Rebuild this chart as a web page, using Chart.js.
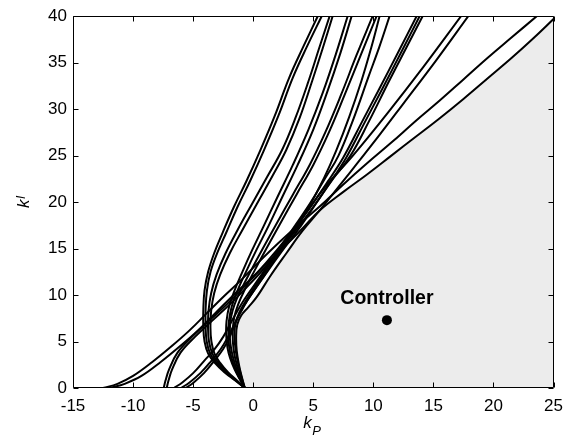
<!DOCTYPE html>
<html><head><meta charset="utf-8">
<script src="https://cdn.jsdelivr.net/npm/chart.js@4.4.0/dist/chart.umd.min.js"></script>
<style>html,body{margin:0;padding:0;background:#fff}canvas{display:block}</style>
</head><body>
<canvas id="c" width="571" height="436"></canvas>
<script>
// ---- tick labels ----
const xTicks = [-15,-10,-5,0,5,10,15,20,25];
const yTicks = [0,5,10,15,20,25,30,35,40];

// ---- boundary curves [kP, kI] ----
const curveA1 = [[-12.5,0],[-11.3,0.45],[-10,1.3],[-8.4,2.8],[-6.7,4.6],[-5.3,6.2],[-3.9,8.0],[-2.5,9.8],[-1.1,11.5],[0.5,13.6],[2.1,15.6],[3.8,17.6],[5.6,19.6],[7.5,21.9],[9.5,24.2],[11.5,26.4],[13.5,28.7],[15.5,30.9],[17.5,33.2],[19.5,35.5],[21.5,37.7],[23.6,40]];
const curveA2 = [[-11.9,0],[-10.7,0.45],[-9.3,1.3],[-7.7,2.8],[-6.0,4.6],[-4.6,6.2],[-3.2,8.0],[-1.8,9.8],[-0.4,11.5],[1.2,13.5],[2.9,15.6],[4.2,17.3],[5.53,19.1],[7.5,21.1],[9.5,23.0],[11.5,25.0],[13.5,27.0],[15.5,29.0],[17.5,31.1],[19.5,33.3],[21.5,35.5],[23.3,37.6],[25,39.7]];
const curveB1 = [[-7.45,0],[-7.3,0.8],[-7.0,2.0],[-6.3,3.8],[-5.1,5.5],[-3.7,7.2],[-2.2,9.0],[-0.6,11.1],[1.1,13.5],[2.9,16.3],[4.6,19.2],[6.2,22.2],[7.5,24.8],[9.0,28.5],[10.5,32.2],[12.1,36.2],[13.6,40]];
const curveB2 = [[-7.2,0],[-7.05,0.8],[-6.75,2.0],[-6.05,3.8],[-4.85,5.5],[-3.45,7.2],[-1.95,9.0],[-0.35,11.1],[1.35,13.5],[3.15,16.3],[4.85,19.2],[6.45,22.2],[7.75,24.8],[9.25,28.5],[10.75,32.2],[12.35,36.2],[13.85,40]];
const curveK1 = [[-6.6,0],[-5.9,0.6],[-5.0,1.6],[-4.1,2.9],[-3.2,4.2],[-2.5,5.5],[-1.95,6.8],[-1.4,8.1],[-0.7,9.6],[0.7,12.2],[2.1,14.9],[3.5,17.5],[4.8,20.0],[6.0,22.6],[7.1,25.0],[8.3,28.8],[9.6,33.5],[10.5,36.7],[11.35,40]];
const curveK2 = [[-6.0,0],[-5.3,0.6],[-4.4,1.6],[-3.5,2.9],[-2.7,4.2],[-2.1,5.5],[-1.6,6.8],[-1.1,8.1],[-0.4,9.6],[1.0,12.2],[2.5,14.9],[4.0,17.5],[5.3,20.0],[6.7,22.6],[8.1,25.0],[9.6,28.6],[11.3,33],[12.7,36.5],[14.1,40]];
const curveK3 = [[-5.6,0],[-4.95,0.6],[-4.1,1.6],[-3.25,2.9],[-2.5,4.2],[-1.95,5.5],[-1.55,6.8],[-1.1,8.0],[-0.5,9.4],[0.6,11.5],[2.0,14.2],[3.4,16.9],[4.6,19.4],[5.9,22.6],[6.9,25.5],[8.0,29.2],[9.0,33],[9.8,36.5],[10.52,40]];
const curveC1 = [[-0.7,0],[-1.5,0.8],[-2.4,1.7],[-3.2,2.7],[-3.75,3.7],[-4.05,5.0],[-4.15,6.5],[-4.15,8.5],[-4.05,10.5],[-3.75,12.5],[-3.25,14.5],[-2.55,16.7],[-1.6,19.5],[-0.55,22.3],[0.6,25.6],[1.8,29.3],[3.0,33.4],[4.2,36.8],[5.37,40]];
const curveC2 = [[-0.7,0],[-1.45,0.8],[-2.3,1.7],[-3.05,2.7],[-3.58,3.7],[-3.87,5.0],[-3.96,6.5],[-3.96,8.5],[-3.85,10.5],[-3.55,12.5],[-3.0,14.5],[-2.25,16.7],[-1.3,19.5],[-0.25,22.3],[0.9,25.6],[2.1,29.3],[3.3,33.4],[4.5,36.8],[5.70,40]];
const curveD1 = [[-0.7,0],[-1.4,0.8],[-2.2,1.7],[-2.9,2.7],[-3.4,3.7],[-3.68,5.0],[-3.76,6.5],[-3.72,8.3],[-3.5,10.2],[-3.05,12.2],[-2.3,14.5],[-1.3,17],[-0.1,19.8],[1.2,22.8],[2.4,25.6],[3.5,29],[4.6,33],[5.5,36.6],[6.36,40]];
const curveD2 = [[-0.7,0],[-1.35,0.8],[-2.1,1.7],[-2.75,2.7],[-3.22,3.7],[-3.48,5.0],[-3.56,6.5],[-3.5,8.3],[-3.25,10.2],[-2.75,12.2],[-1.95,14.5],[-0.9,17],[0.3,19.8],[1.6,22.8],[2.75,25.6],[3.85,29],[4.9,33],[5.8,36.6],[6.61,40]];
const curveE1 = [[-0.7,0],[-1.1,0.9],[-1.55,2.0],[-1.92,3.2],[-2.15,4.4],[-2.25,5.8],[-2.22,7.2],[-2.0,8.8],[-1.55,10.5],[-0.9,12.5],[-0.1,14.8],[0.9,17.5],[2.0,20.5],[3.3,24.0],[4.6,27.8],[5.8,31.8],[6.9,36],[7.86,40]];
const curveE2 = [[-0.7,0],[-1.08,0.9],[-1.48,2.0],[-1.8,3.2],[-2.0,4.4],[-2.07,5.8],[-2.02,7.2],[-1.78,8.8],[-1.3,10.5],[-0.6,12.5],[0.25,14.8],[1.3,17.5],[2.4,20.5],[3.7,24.0],[5.0,27.8],[6.15,31.8],[7.25,36],[8.19,40]];
const curveF1 = [[-0.7,0],[-1.05,1.0],[-1.42,2.2],[-1.72,3.5],[-1.9,4.8],[-1.95,6.2],[-1.85,7.6],[-1.55,9.0],[-1.0,10.6],[-0.2,12.6],[0.8,15],[2.0,17.8],[3.3,20.8],[4.7,24.0],[6.0,27.5],[7.3,31.5],[8.6,35.8],[9.94,40]];
const curveF2 = [[-0.7,0],[-1.0,1.0],[-1.3,2.2],[-1.55,3.5],[-1.68,4.8],[-1.7,6.2],[-1.58,7.6],[-1.25,9.0],[-0.7,10.6],[0.1,12.6],[1.1,15],[2.3,17.8],[3.6,20.8],[5.0,24.0],[6.3,27.5],[7.6,31.5],[8.95,35.8],[10.27,40]];
const curveI1 = [[-0.7,0],[-0.98,1.2],[-1.25,2.6],[-1.45,4.0],[-1.55,5.5],[-1.5,6.8],[-1.2,8.0],[-0.6,9.4],[0.3,11.2],[1.5,13.5],[2.9,16.1],[4.4,18.8],[5.9,21.5],[8.3,25.0],[11.2,29.6],[14.2,34.6],[17.3,40]];
const curveI2 = [[-0.7,0],[-0.95,1.2],[-1.2,2.6],[-1.37,4.0],[-1.42,5.5],[-1.33,6.8],[-1.0,7.8],[-0.4,8.7],[0.3,9.8],[1.4,12],[2.76,14.5],[4.1,16.9],[5.53,19.1],[7.2,21.8],[8.8,24.4],[10.5,27.2],[12.5,30.6],[15.2,35.2],[17.9,40]];

// ---- controller ----
const controllerKP = [11.13];
const controllerKI = [7.3];
const controllerLabel = 'Controller';

// ---- stable region corner ----
const regionCorner = [[25,0]];

const curves = [curveA1,curveA2,curveB1,curveB2,curveK1,curveK2,curveK3,curveC1,curveC2,curveD1,curveD2,curveE1,curveE2,curveF1,curveF2,curveI1,curveI2];

const toXY = arr => arr.map(p => ({x:p[0], y:p[1]}));
const jI = curveI2.findIndex(p => p[0] === 5.53);
const jA = curveA2.findIndex(p => p[0] === 5.53);
const regionPts = curveI2.slice(0, jI + 1).concat(curveA2.slice(jA + 1), regionCorner);

const FONT = '"Liberation Sans", Arial, Helvetica, sans-serif';

const decor = {
  id: 'decor',
  afterDraw(chart) {
    const {ctx, chartArea: a, scales: {x, y}} = chart;
    ctx.save();
    ctx.strokeStyle = '#000';
    ctx.lineWidth = 1;
    const L = Math.round(a.left) + 0.5, R = Math.round(a.right) - 0.5;
    const T = Math.round(a.top) + 0.5, B = Math.round(a.bottom) - 0.5;
    ctx.beginPath();
    ctx.rect(L, T, R - L, B - T);
    const tl = 5;
    xTicks.forEach(v => {
      const px = Math.round(x.getPixelForValue(v)) + 0.5;
      ctx.moveTo(px, B); ctx.lineTo(px, B - tl);
      ctx.moveTo(px, T); ctx.lineTo(px, T + tl);
    });
    yTicks.forEach(v => {
      const py = Math.round(y.getPixelForValue(v)) + 0.5;
      ctx.moveTo(L, py); ctx.lineTo(L + tl, py);
      ctx.moveTo(R, py); ctx.lineTo(R - tl, py);
    });
    ctx.stroke();

    // controller label
    ctx.fillStyle = '#000';
    ctx.font = 'bold 19.5px ' + FONT;
    ctx.textAlign = 'center';
    ctx.textBaseline = 'alphabetic';
    ctx.fillText(controllerLabel, x.getPixelForValue(controllerKP[0]), y.getPixelForValue(controllerKI[0]) - 16);

    // x title k_P
    ctx.textAlign = 'left';
    ctx.font = 'italic 17px ' + FONT;
    const kw = ctx.measureText('k').width;
    const midX = (a.left + a.right) / 2;
    const x0 = midX - 10;
    ctx.fillText('k', x0, a.bottom + 40);
    ctx.font = 'italic 13px ' + FONT;
    ctx.fillText('P', x0 + kw + 0.5, a.bottom + 47);

    // y title k_I
    const midY = (a.top + a.bottom) / 2;
    ctx.save();
    ctx.translate(a.left - 44, midY + 6);
    ctx.rotate(-Math.PI / 2);
    ctx.font = 'italic 17px ' + FONT;
    ctx.fillText('k', 0, 0);
    ctx.font = 'italic 12px ' + FONT;
    ctx.fillText('I', kw + 0.5, -4);
    ctx.restore();
    ctx.restore();
  }
};

const datasets = [];
datasets.push({
  data: controllerKP.map((v, i) => ({x: v, y: controllerKI[i]})),
  showLine: false, pointRadius: 5, pointBackgroundColor: '#000', pointBorderColor: '#000', pointBorderWidth: 0
});
curves.forEach(c => datasets.push({
  data: toXY(c), showLine: true, borderColor: '#000', borderWidth: 2,
  pointRadius: 0, tension: 0.4, fill: false
}));
datasets.push({
  data: toXY(regionPts), showLine: true, borderColor: 'rgba(0,0,0,0)', borderWidth: 1,
  backgroundColor: '#ececec', pointRadius: 0, tension: 0.4, fill: 'shape'
});

new Chart(document.getElementById('c'), {
  type: 'scatter',
  data: {datasets},
  options: {
    responsive: false,
    animation: false,
    events: [],
    devicePixelRatio: 1,
    layout: {padding: {left: 0, right: 17, top: 16, bottom: 0}},
    plugins: {legend: {display: false}, tooltip: {enabled: false}},
    scales: {
      x: {
        type: 'linear', min: -15, max: 25,
        afterBuildTicks: s => { s.ticks = xTicks.map(v => ({value: v})); },
        afterFit: s => { s.height = 48; },
        grid: {display: false, drawTicks: false},
        border: {display: false},
        ticks: {padding: 8, color: '#000', font: {family: FONT, size: 17}, maxRotation: 0}
      },
      y: {
        type: 'linear', min: 0, max: 40,
        afterBuildTicks: s => { s.ticks = yTicks.map(v => ({value: v})); },
        afterFit: s => { s.width = 73; },
        grid: {display: false, drawTicks: false},
        border: {display: false},
        ticks: {padding: 6, color: '#000', font: {family: FONT, size: 17}}
      }
    }
  },
  plugins: [decor]
});
</script>
</body></html>
